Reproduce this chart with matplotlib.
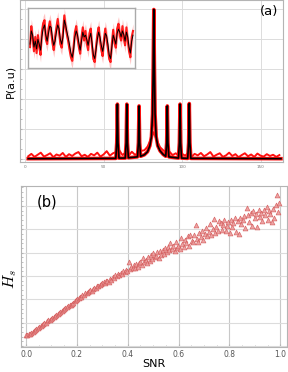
import matplotlib
matplotlib.use("Agg")
import matplotlib.pyplot as plt
import numpy as np
from matplotlib.ticker import AutoMinorLocator, MultipleLocator

plt.rcParams['mathtext.fontset'] = 'cm'

# (a) power spectrum: noisy (red) and clean (black)
freq_red = np.arange(2, 163, 2)
power_red = [0.10, 0.18, 0.08, 0.15, 0.22, 0.09, 0.14, 0.20, 0.07, 0.16,
             0.12, 0.21, 0.08, 0.17, 0.11, 0.19, 0.24, 0.10, 0.15, 0.08,
             0.18, 0.13, 0.22, 0.09, 0.16, 0.27, 0.12, 0.20, 0.24, 0.30,
             0.14, 0.22, 0.12, 0.25, 0.15, 0.20, 0.28, 0.30, 0.42, 0.65,
             0.90, 0.62, 0.40, 0.30, 0.22, 0.25, 0.14, 0.20, 0.10, 0.18,
             0.12, 0.22, 0.08, 0.18, 0.13, 0.21, 0.10, 0.16, 0.24, 0.09,
             0.15, 0.20, 0.08, 0.13, 0.22, 0.11, 0.17, 0.07, 0.14, 0.20,
             0.10, 0.16, 0.08, 0.19, 0.12, 0.09, 0.17, 0.11, 0.15, 0.08,
             0.14]

freq_black = [2, 57.8, 58.4, 58.8, 59.2, 59.8, 63.8, 64.4, 64.8, 65.2, 65.8,
              71.6, 72.2, 72.6, 73.0, 73.6, 76, 78, 79.5, 80.5, 81.2, 81.6,
              82.0, 82.4, 82.8, 83.5, 84.5, 86, 88, 89.6, 90.2, 90.6, 91.0,
              91.6, 97.7, 98.3, 98.7, 99.1, 99.7, 103.6, 104.2, 104.6, 105.0,
              105.6, 163]
power_black = [0.02, 0.03, 0.55, 1.83, 0.55, 0.04, 0.04, 0.55, 1.83, 0.55, 0.05,
               0.08, 0.55, 1.77, 0.55, 0.10, 0.15, 0.25, 0.45, 0.75, 1.5, 3.0,
               4.97, 3.0, 1.5, 0.75, 0.45, 0.28, 0.16, 0.10, 0.55, 1.77, 0.55,
               0.08, 0.04, 0.55, 1.83, 0.55, 0.04, 0.03, 0.55, 1.85, 0.55,
               0.03, 0.02]

# inset: time series
inset_black = [0.40, 0.62, 0.55, 0.35, 0.45, 0.32, 0.48, 0.40, 0.30, 0.52,
               0.66, 0.72, 0.55, 0.45, 0.58, 0.70, 0.68, 0.50, 0.38, 0.45,
               0.60, 0.72, 0.66, 0.48, 0.40, 0.52, 0.80, 0.72, 0.60, 0.50,
               0.38, 0.25, 0.18, 0.30, 0.52, 0.62, 0.55, 0.42, 0.30, 0.45,
               0.60, 0.52, 0.55, 0.48, 0.38, 0.50, 0.58, 0.42, 0.22, 0.16,
               0.30, 0.48, 0.60, 0.52, 0.38, 0.28, 0.40, 0.58, 0.54, 0.40,
               0.22, 0.16, 0.35, 0.55, 0.48, 0.40, 0.58, 0.65, 0.60, 0.52,
               0.62, 0.56, 0.45, 0.60, 0.52, 0.35, 0.25, 0.45, 0.55]
inset_red = [0.35, 0.70, 0.50, 0.28, 0.52, 0.25, 0.55, 0.35, 0.22, 0.60,
             0.75, 0.80, 0.48, 0.40, 0.66, 0.78, 0.62, 0.42, 0.30, 0.52,
             0.68, 0.82, 0.60, 0.40, 0.34, 0.60, 0.88, 0.68, 0.55, 0.44,
             0.30, 0.18, 0.12, 0.36, 0.60, 0.70, 0.50, 0.35, 0.24, 0.52,
             0.68, 0.46, 0.62, 0.42, 0.30, 0.58, 0.66, 0.36, 0.15, 0.10,
             0.36, 0.56, 0.68, 0.46, 0.30, 0.20, 0.48, 0.66, 0.48, 0.32,
             0.15, 0.10, 0.42, 0.64, 0.42, 0.34, 0.66, 0.74, 0.55, 0.46,
             0.70, 0.50, 0.38, 0.68, 0.46, 0.28, 0.18, 0.52, 0.62]

# (b) entropy vs SNR
snr = [0.000, 0.005, 0.010, 0.015, 0.020, 0.026, 0.031, 0.036, 0.041, 0.046,
       0.052, 0.057, 0.062, 0.067, 0.072, 0.077, 0.083, 0.088, 0.093, 0.098,
       0.103, 0.108, 0.114, 0.119, 0.124, 0.129, 0.134, 0.140, 0.145, 0.150,
       0.155, 0.160, 0.165, 0.171, 0.176, 0.181, 0.186, 0.191, 0.196, 0.202,
       0.207, 0.212, 0.217, 0.222, 0.227, 0.233, 0.238, 0.243, 0.248, 0.253,
       0.258, 0.264, 0.269, 0.274, 0.279, 0.284, 0.289, 0.295, 0.300,
       0.305, 0.310, 0.315, 0.320, 0.326, 0.331, 0.336, 0.341, 0.346, 0.351,
       0.357, 0.362, 0.367, 0.372, 0.377, 0.382, 0.388, 0.393, 0.398, 0.403,
       0.408, 0.413, 0.419, 0.424, 0.429, 0.434, 0.439, 0.444, 0.450,
       0.455, 0.460, 0.465, 0.470, 0.475, 0.481, 0.486, 0.491, 0.496, 0.501,
       0.506, 0.512, 0.517, 0.522, 0.527, 0.532, 0.537, 0.543, 0.548, 0.553,
       0.558, 0.563, 0.568, 0.574, 0.579, 0.584, 0.589, 0.594, 0.599, 0.605,
       0.610, 0.615, 0.620, 0.625, 0.630, 0.636, 0.641, 0.646, 0.651, 0.656,
       0.661, 0.667, 0.672, 0.677, 0.682, 0.687, 0.692, 0.698, 0.703, 0.708,
       0.713, 0.718, 0.723, 0.729, 0.734, 0.739, 0.744, 0.749, 0.754, 0.760,
       0.765, 0.770, 0.775, 0.780, 0.785, 0.791, 0.796, 0.801, 0.806, 0.811,
       0.816, 0.822, 0.827, 0.832, 0.837, 0.842, 0.847, 0.853, 0.858, 0.863,
       0.868, 0.873, 0.878, 0.884, 0.889, 0.894, 0.899, 0.904, 0.909, 0.915,
       0.920, 0.925, 0.930, 0.935, 0.940, 0.946, 0.951, 0.956, 0.961, 0.966,
       0.971, 0.977, 0.982, 0.987, 0.992, 0.997]
hs = [0.46, 0.47, 0.50, 0.52, 0.55, 0.60, 0.64, 0.69, 0.74, 0.78,
      0.83, 0.88, 0.90, 0.95, 0.99, 1.01, 1.06, 1.10, 1.13, 1.18,
      1.22, 1.25, 1.30, 1.33, 1.38, 1.41, 1.46, 1.52, 1.55, 1.60,
      1.64, 1.66, 1.72, 1.74, 1.76, 1.80, 1.86, 1.93, 1.97, 2.03,
      2.06, 2.09, 2.12, 2.18, 2.20, 2.26, 2.28, 2.33, 2.37, 2.40,
      2.38, 2.46, 2.48, 2.50, 2.56, 2.58, 2.62, 2.66, 2.70,
      2.74, 2.69, 2.78, 2.80, 2.76, 2.88, 2.85, 2.95, 2.92, 3.04,
      2.99, 3.10, 3.06, 3.14, 3.09, 3.20, 3.18, 3.28, 3.23, 3.62,
      3.30, 3.38, 3.34, 3.46, 3.33, 3.52, 3.40, 3.56, 3.60,
      3.48, 3.78, 3.62, 3.70, 3.54, 3.82, 3.66, 3.90, 3.72, 3.98,
      3.80, 3.86, 4.02, 3.78, 4.08, 3.92, 4.12, 3.96, 4.20, 4.05,
      4.26, 4.10, 4.40, 4.15, 4.28, 4.08, 4.45, 4.22, 4.30, 4.18,
      4.62, 4.36, 4.25, 4.55, 4.40, 4.70, 4.30, 4.78, 4.52, 4.44,
      4.75, 5.18, 4.60, 4.48, 4.85, 4.66, 4.95, 4.56, 4.82, 5.05,
      4.70, 4.90, 5.22, 4.76, 5.00, 5.45, 4.85, 5.12, 4.92, 5.35,
      5.26, 4.98, 5.20, 5.40, 4.95, 5.15, 5.30, 4.85, 5.42, 5.10,
      5.28, 5.48, 4.90, 5.35, 4.80, 5.50, 5.22, 5.40, 5.58, 5.05,
      5.90, 5.62, 5.30, 5.70, 5.15, 5.80, 5.48, 5.65, 5.10, 5.85,
      5.55, 5.72, 5.35, 5.83, 5.60, 5.95, 5.40, 5.78, 5.66, 5.30,
      5.88, 5.50, 6.05, 6.47, 5.76, 6.12]

grid_c = '#dcdcdc'
spine_c = '#b4b4b4'

fig = plt.figure(figsize=(2.88, 3.72), dpi=100)

# ---- panel (a)
ax1 = fig.add_axes([0.068, 0.5637, 0.913, 0.435])
ax1.plot(freq_red, power_red, color='#ff1010', lw=1.4, zorder=2)
ax1.plot(freq_black, power_black, color='#ff1010', lw=2.6, zorder=2)
ax1.plot(freq_black, power_black, color='black', lw=1.2, zorder=3)
ax1.set_xlim(-3.5, 164)
ax1.set_ylim(-0.1, 5.27)
ax1.set_xticks([0, 50, 100, 150])
ax1.yaxis.set_major_locator(MultipleLocator(1))
ax1.yaxis.set_minor_locator(AutoMinorLocator(3))
ax1.set_yticklabels([])
ax1.grid(True, color=grid_c, lw=0.7)
ax1.tick_params(axis='x', labelsize=3, colors='#777777', length=0, pad=2)
ax1.tick_params(axis='y', which='both', direction='in', length=1.5, colors=spine_c, labelleft=False)
for s in ax1.spines.values():
    s.set_color(spine_c)
    s.set_linewidth(0.8)
ax1.set_ylabel('P(a.u)', fontsize=8, labelpad=3)
ax1.text(0.985, 0.93, '(a)', transform=ax1.transAxes, ha='right', va='center', fontsize=9.5)

# inset
axi = fig.add_axes([0.0972, 0.817, 0.3715, 0.161])
xi = np.arange(len(inset_black))
xr = np.linspace(0, len(inset_black) - 1, len(inset_red))
lo = np.minimum(np.interp(xr, xi, inset_black), inset_red) - 0.12
hi = np.maximum(np.interp(xr, xi, inset_black), inset_red) + 0.12
axi.fill_between(xr, lo, hi, color='#ffb3b3', lw=0, alpha=0.8)
axi.plot(xr, inset_red, color='#ff1a1a', lw=1.5)
axi.plot(xi, inset_black, color='black', lw=0.7)
axi.set_xlim(-1.5, len(inset_black) + 0.5)
axi.set_ylim(0, 1)
axi.set_xticks([])
axi.set_yticks([])
for s in axi.spines.values():
    s.set_color('#aaaaaa')
    s.set_linewidth(1.0)

# ---- panel (b)
ax2 = fig.add_axes([0.072, 0.0672, 0.924, 0.4328])
ax2.scatter(snr, hs, marker='^', s=12, facecolor='#eb9a9a', edgecolor='#d45c5c',
            linewidths=0.5, alpha=0.9, zorder=3)
ax2.set_xlim(-0.021, 1.026)
ax2.set_ylim(-0.04, 6.86)
ax2.set_xticks([0.0, 0.2, 0.4, 0.6, 0.8, 1.0])
ax2.xaxis.set_minor_locator(AutoMinorLocator(4))
ax2.yaxis.set_major_locator(MultipleLocator(1))
ax2.yaxis.set_minor_locator(AutoMinorLocator(5))
ax2.grid(True, axis='x', color='#c8c8c8', lw=0.8)
ax2.grid(True, axis='y', color=grid_c, lw=0.8)
ax2.tick_params(axis='x', which='major', labelsize=5.5, colors=spine_c, labelcolor='#555555', direction='in', length=2, pad=2)
ax2.tick_params(axis='x', which='minor', colors=spine_c, direction='in', length=1.2)
ax2.tick_params(axis='y', which='both', direction='in', length=1.5, colors=spine_c, labelleft=False)
for s in ax2.spines.values():
    s.set_color(spine_c)
    s.set_linewidth(0.8)
ax2.set_xlabel('SNR', fontsize=8, labelpad=0)
ax2.set_ylabel('$H_s$', fontsize=11.5)
ax2.yaxis.set_label_coords(-0.006, 0.42)
ax2.text(0.06, 0.9, '(b)', transform=ax2.transAxes, ha='left', va='center', fontsize=10.5)

fig.savefig('out.png', dpi=100)
